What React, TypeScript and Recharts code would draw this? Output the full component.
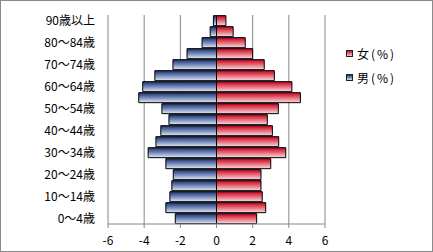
import React from 'react';
import { BarChart, Bar, XAxis, YAxis, CartesianGrid, Legend } from 'recharts';

const ages = ['90歳以上', '85～89歳', '80～84歳', '75～79歳', '70～74歳', '65～69歳', '60～64歳', '55～59歳', '50～54歳', '45～49歳', '40～44歳', '35～39歳', '30～34歳', '25～29歳', '20～24歳', '15～19歳', '10～14歳', '5～9歳', '0～4歳'];
const male = [-0.17, -0.35, -0.8, -1.63, -2.41, -3.41, -4.08, -4.3, -3.02, -2.63, -3.08, -3.35, -3.78, -2.8, -2.39, -2.47, -2.58, -2.8, -2.28];
const female = [0.52, 0.92, 1.59, 2.0, 2.64, 3.2, 4.17, 4.64, 3.42, 2.81, 3.09, 3.44, 3.83, 3.0, 2.46, 2.46, 2.53, 2.72, 2.22];
const xTicks = [-6, -4, -2, 0, 2, 4, 6];
const seriesNames = { female: '女(%)', male: '男(%)' };

const data = ages.map((a, i) => ({ age: a, male: male[i], female: female[i] }));

const FONT = '"Noto Sans CJK JP", "Noto Sans", sans-serif';

const LegendContent = () => (
  <div style={{ fontFamily: FONT, fontSize: 12, color: '#000' }}>
    {[
      { name: seriesNames.female, fill: 'url(#gFemaleL)', c1: '#c8102e', c2: '#f3c8cf' },
      { name: seriesNames.male, fill: 'url(#gMaleL)', c1: '#1f3470', c2: '#d6deef' },
    ].map((e, i) => (
      <div key={i} style={{ display: 'flex', alignItems: 'center', height: 24 }}>
        <span
          style={{
            display: 'inline-block',
            width: 5,
            height: 5,
            border: '1px solid #222',
            background: `linear-gradient(${e.c1}, ${e.c2})`,
            marginRight: 4,
          }}
        />
        <span style={{ letterSpacing: 2 }}>{e.name}</span>
      </div>
    ))}
  </div>
);

export default function App() {
  return (
    <div
      style={{
        position: 'absolute',
        left: 0,
        top: 0,
        width: 433,
        height: 252,
        boxSizing: 'border-box',
        border: '1px solid #8a8a8a',
        background: '#fff',
      }}
    >
      <div style={{ position: 'absolute', left: -1, top: -1 }}>
        <BarChart
          width={433}
          height={252}
          data={data}
          layout="vertical"
          stackOffset="sign"
          barCategoryGap="6%"
          margin={{ top: 15, right: 108, bottom: 0, left: 0 }}
          style={{ fontFamily: FONT }}
        >
          <defs>
            <linearGradient id="gMale" x1="0" y1="0" x2="0" y2="1">
              <stop offset="0%" stopColor="#1a2d66" />
              <stop offset="45%" stopColor="#6a80b4" />
              <stop offset="100%" stopColor="#e2e8f4" />
            </linearGradient>
            <linearGradient id="gFemale" x1="0" y1="0" x2="0" y2="1">
              <stop offset="0%" stopColor="#c4001c" />
              <stop offset="45%" stopColor="#e4606f" />
              <stop offset="100%" stopColor="#f8dde1" />
            </linearGradient>
          </defs>
          <CartesianGrid horizontal={false} vertical={true} stroke="#868686" strokeWidth={1} />
          <XAxis
            type="number"
            domain={[-6, 6]}
            ticks={xTicks}
            interval={0}
            axisLine={{ stroke: '#868686' }}
            tickLine={{ stroke: '#868686' }}
            tickSize={4}
            tickMargin={8}
            height={28}
            tick={{ fill: '#000', fontSize: 12 }}
          />
          <YAxis
            type="category"
            dataKey="age"
            width={108}
            interval={1}
            axisLine={false}
            tickLine={false}
            tickSize={6}
            tickMargin={7}
            tick={{ fill: '#000', fontSize: 12 }}
          />
          <Legend
            layout="horizontal"
            align="center"
            verticalAlign="middle"
            content={<LegendContent />}
            wrapperStyle={{ left: 346, top: 41, width: 80 }}
          />
          <Bar dataKey="male" name={seriesNames.male} stackId="a" fill="url(#gMale)" stroke="#000" strokeWidth={1} isAnimationActive={false} />
          <Bar dataKey="female" name={seriesNames.female} stackId="a" fill="url(#gFemale)" stroke="#000" strokeWidth={1} isAnimationActive={false} />
        </BarChart>
      </div>
    </div>
  );
}
